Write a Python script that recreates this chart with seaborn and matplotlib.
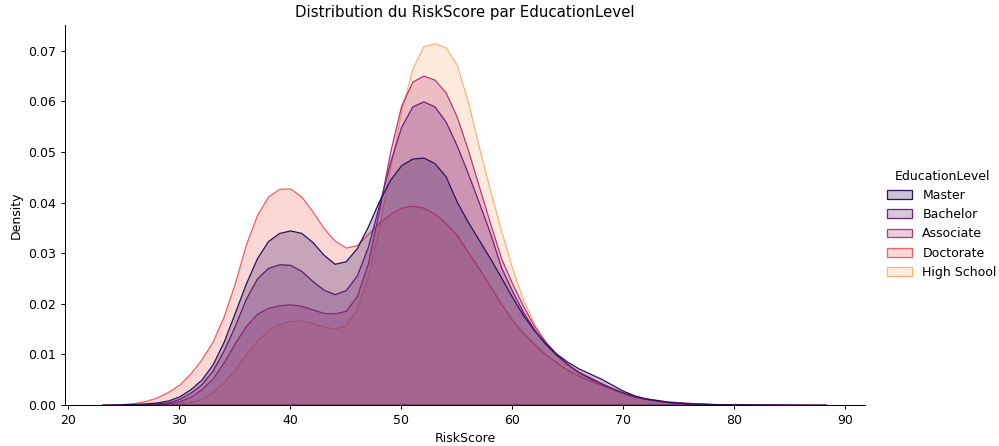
import numpy as np
import pandas as pd
import matplotlib
matplotlib.use("Agg")
import matplotlib.pyplot as plt
import seaborn as sns
from matplotlib.patches import Patch

# ---- data ----
levels = ["Master", "Bachelor", "Associate", "Doctorate", "High School"]

risk_score = [23, 24, 25, 26, 27, 28, 29, 30, 31, 32, 33, 34, 35, 36, 37, 38, 39, 40,
              41, 42, 43, 44, 45, 46, 47, 48, 49, 50, 51, 52, 53, 54, 55, 56, 57, 58,
              59, 60, 61, 62, 63, 64, 65, 66, 67, 68, 69, 70, 71, 72, 74, 76, 78, 80,
              83, 86, 88.3]

master = [0.0, 0.00005, 0.0001, 0.0002, 0.0003, 0.0005, 0.0009, 0.0017, 0.0031, 0.0050,
          0.0080, 0.0125, 0.0182, 0.0240, 0.0290, 0.0324, 0.0340, 0.0345, 0.0340, 0.0322,
          0.0297, 0.0279, 0.0284, 0.0310, 0.0353, 0.0403, 0.0445, 0.0474, 0.0487, 0.0489,
          0.0478, 0.0452, 0.0402, 0.0362, 0.0326, 0.0290, 0.0252, 0.0213, 0.0177, 0.0147,
          0.0122, 0.0101, 0.0085, 0.0072, 0.0062, 0.0052, 0.0040, 0.0028, 0.0019, 0.0013,
          0.0006, 0.0003, 0.00018, 0.0001, 0.00005, 0.00002, 0.0]

bachelor = [0.0, 0.0, 0.0001, 0.0001, 0.0002, 0.0003, 0.0005, 0.0012, 0.0024, 0.0041,
            0.0068, 0.0108, 0.0156, 0.0210, 0.0250, 0.0271, 0.0278, 0.0277, 0.0265, 0.0245,
            0.0228, 0.0219, 0.0227, 0.0256, 0.0313, 0.0395, 0.0480, 0.0550, 0.0590, 0.0600,
            0.0590, 0.0560, 0.0513, 0.0458, 0.0400, 0.0340, 0.0272, 0.0225, 0.0183, 0.0148,
            0.0120, 0.0098, 0.0080, 0.0065, 0.0054, 0.0043, 0.0033, 0.0024, 0.0017, 0.0012,
            0.0006, 0.0003, 0.00015, 0.00008, 0.00003, 0.00001, 0.0]

associate = [0.0, 0.0, 0.00005, 0.0001, 0.0001, 0.0002, 0.0003, 0.0007, 0.0016, 0.0031,
             0.0052, 0.0084, 0.0122, 0.0156, 0.0180, 0.0192, 0.0197, 0.0199, 0.0196, 0.0189,
             0.0182, 0.0181, 0.0186, 0.0215, 0.0280, 0.0385, 0.0500, 0.0592, 0.0639, 0.0651,
             0.0643, 0.0618, 0.0570, 0.0505, 0.0432, 0.0360, 0.0290, 0.0240, 0.0195, 0.0155,
             0.0125, 0.0100, 0.0080, 0.0064, 0.0052, 0.0042, 0.0033, 0.0025, 0.0018, 0.0013,
             0.0007, 0.0004, 0.0002, 0.0001, 0.00005, 0.00002, 0.0]

doctorate = [0.0, 0.0001, 0.0002, 0.0004, 0.0008, 0.0015, 0.0026, 0.0040, 0.0062, 0.0090,
             0.0125, 0.0175, 0.0240, 0.0317, 0.0375, 0.0412, 0.0427, 0.0428, 0.0412, 0.0383,
             0.0350, 0.0325, 0.0311, 0.0316, 0.0338, 0.0360, 0.0378, 0.0390, 0.0394, 0.0390,
             0.0378, 0.0360, 0.0336, 0.0303, 0.0270, 0.0235, 0.0200, 0.0168, 0.0142, 0.0120,
             0.0100, 0.0084, 0.0069, 0.0058, 0.0048, 0.0040, 0.0031, 0.0024, 0.0016, 0.0012,
             0.0006, 0.0003, 0.00015, 0.00008, 0.00002, 0.0, 0.0]

high_school = [0.0, 0.0, 0.0, 0.00005, 0.0001, 0.0001, 0.0002, 0.0003, 0.0006, 0.0012,
               0.0025, 0.0045, 0.0070, 0.0100, 0.0127, 0.0148, 0.0160, 0.0166, 0.0167, 0.0162,
               0.0155, 0.0151, 0.0158, 0.0190, 0.0254, 0.0350, 0.0468, 0.0580, 0.0665, 0.0709,
               0.0715, 0.0707, 0.0673, 0.0600, 0.0510, 0.0425, 0.0345, 0.0270, 0.0207, 0.0160,
               0.0124, 0.0100, 0.0080, 0.0066, 0.0055, 0.0044, 0.0034, 0.0025, 0.0018, 0.0013,
               0.0007, 0.0004, 0.0002, 0.0001, 0.00004, 0.00001, 0.0]

series = {"Master": master, "Bachelor": bachelor, "Associate": associate,
          "Doctorate": doctorate, "High School": high_school}

df = pd.concat(
    [pd.DataFrame({"RiskScore": risk_score, "Density": vals, "EducationLevel": lvl})
     for lvl, vals in series.items()],
    ignore_index=True,
)

palette = dict(zip(levels, sns.color_palette("magma", len(levels))))

DPI = 90
fig = plt.figure(figsize=(999 / DPI, 446 / DPI), dpi=DPI)
ax = fig.add_axes([0.065, 0.092, 0.801, 0.852])

# seaborn draws hue levels in reverse order (first level on top)
for lvl in reversed(levels):
    sub = df[df["EducationLevel"] == lvl]
    col = palette[lvl]
    ax.fill_between(sub["RiskScore"], 0, sub["Density"],
                    facecolor=(*col, 0.25), edgecolor=col, linewidth=1.0)

ax.set_xlim(19.7, 91.8)
ax.set_ylim(0, 0.0751)
ax.set_xticks([20, 30, 40, 50, 60, 70, 80, 90])
ax.set_xlabel("RiskScore")
ax.set_ylabel("Density")
ax.set_title("Distribution du RiskScore par EducationLevel")
sns.despine(ax=ax)

handles = [Patch(facecolor=(*palette[l], 0.25), edgecolor=palette[l], linewidth=1.0)
           for l in levels]
fig.legend(handles, levels, title="EducationLevel", loc="center left",
           bbox_to_anchor=(0.877, 0.497), frameon=False)

fig.savefig("out.png", dpi=DPI)
